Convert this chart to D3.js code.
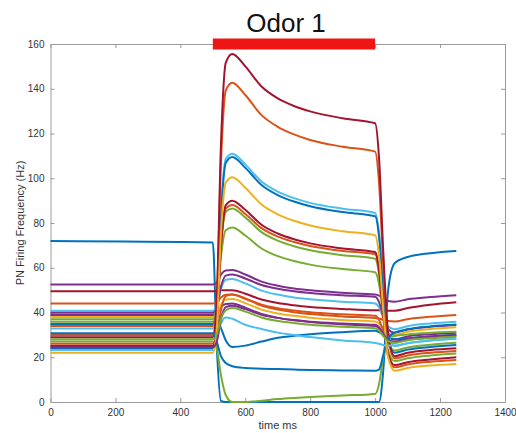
<!DOCTYPE html>
<html>
<head>
<meta charset="utf-8">
<script src="https://cdn.jsdelivr.net/npm/d3@7"></script>
<style>
  body { margin: 0; background: #fff; }
  text { font-family: "Liberation Sans", Arial, sans-serif; }
</style>
</head>
<body>
<script>
// time points (ms) shared by every PN trace
const times = [0, 500, 512, 525, 540, 560, 600, 650, 700, 750, 800, 900, 1000, 1012, 1025, 1040, 1060, 1100, 1170, 1250];

// PN firing rates (Hz), one array per neuron
const pn01 = [72, 71.3, 25, 0.5, 0, 0, 0, 0, 0, 0, 0, 0, 0, 0, 14, 50, 62, 64.8, 66.5, 67.5];
const pn02 = [52.5, 52.5, 53.3, 56.9, 58.8, 59, 57, 53.8, 52, 50.75, 49.9, 48.8, 48, 47.5, 46.2, 45.1, 44.8, 45.9, 46.9, 47.7];
const pn03 = [49.5, 49.5, 49.6, 49.9, 50, 50, 48.4, 45.8, 44.2, 43.25, 42.5, 41.6, 41, 41, 40.9, 40.8, 40.8, 42, 43.5, 44.6];
const pn04 = [44, 44, 44.5, 46.7, 47.9, 48, 46.1, 43.1, 41.3, 40.1, 39.3, 38.2, 37.5, 37.3, 36.7, 36.2, 36, 37, 38.1, 38.9];
const pn05 = [40.8, 40.8, 42.6, 50.5, 54.6, 55, 53, 49.8, 48, 46.75, 45.9, 44.8, 44, 42.3, 37.7, 33.7, 32.5, 33.9, 35.1, 35.9];
const pn06 = [39.9, 39.9, 42.1, 51.5, 56.5, 57, 55.2, 52.3, 50.6, 49.5, 48.7, 47.7, 47, 44.6, 38.2, 32.6, 31, 32.4, 33.6, 34.4];
const pn07 = [38.9, 38.9, 39.6, 42.4, 43.8, 44, 42.2, 39.3, 37.6, 36.5, 35.7, 34.7, 34, 33.1, 30.7, 28.6, 28, 29.3, 30.3, 31];
const pn08 = [38, 38, 39, 43.4, 45.8, 46, 44.2, 41.3, 39.6, 38.5, 37.7, 36.7, 36, 35.1, 32.7, 30.6, 30, 31.4, 32.6, 33.4];
const pn09 = [37, 37, 42.3, 64.9, 76.8, 78, 74.4, 68.6, 65.2, 63, 61.4, 59.4, 58, 52.8, 38.8, 26.5, 23, 24.4, 25.6, 26.5];
const pn10 = [35.9, 35.9, 42.6, 70.3, 85, 86.5, 82.5, 75.9, 72.1, 69.6, 67.8, 65.6, 64, 57.1, 38.9, 22.9, 18.3, 19.6, 20.8, 21.7];
const pn11 = [34.9, 34.9, 37, 33, 27.5, 24.6, 25.2, 27, 28.7, 29.6, 30.3, 31.2, 31.8, 31.2, 30, 28.5, 28, 28.5, 29.3, 29.9];
const pn12 = [34, 34, 41, 70.7, 86.4, 88, 84, 77.7, 73.9, 71.5, 69.7, 67.5, 66, 58.4, 38.2, 20.6, 15.5, 16.8, 18, 18.8];
const pn13 = [32.9, 32.9, 43.1, 86, 108.7, 111, 106.2, 98.5, 94, 91.1, 89, 86.4, 84.5, 75.6, 51.8, 31, 25, 26.3, 27.5, 28.4];
const pn14 = [24, 24, 35.1, 82.1, 106.9, 109.5, 104.7, 97, 92.5, 89.6, 87.5, 84.9, 83, 73.9, 49.5, 28.1, 22, 23.4, 24.6, 25.5];
const pn15 = [29.9, 29.9, 44.6, 106.6, 139.3, 142.7, 137.2, 128.2, 123, 119.6, 117.1, 114.1, 111.9, 98, 61.1, 28.7, 19.5, 20.8, 22, 22.8];
const pn16 = [28.9, 28.9, 45.4, 115, 151.7, 155.5, 150, 141, 135.7, 132.3, 129.9, 126.8, 124.6, 109, 67.3, 30.9, 20.5, 22, 23.2, 24];
const pn17 = [27, 27, 24, 12, 3, 0, 0, 0.6, 1.3, 1.8, 2.2, 2.9, 3.6, 8, 20, 28.5, 29.5, 30.2, 30.9, 31.4];
const pn18 = [26, 26, 28.9, 41, 47.3, 48, 46.3, 43.5, 41.9, 40.9, 40.1, 39.2, 38.5, 36.7, 31.9, 27.7, 26.5, 27.8, 28.8, 29.5];
const pn19 = [25, 25, 33.5, 69.2, 88, 90, 85.9, 79.2, 75.3, 72.75, 70.9, 68.6, 67, 59.4, 39.2, 21.6, 16.5, 17.8, 19, 20];
const pn20 = [30.7, 30.7, 27, 20.5, 17.4, 16, 15.2, 14.9, 14.7, 14.5, 14.3, 14.1, 14, 14.5, 21, 28.5, 31, 32.5, 33.8, 34.6];
const pn21 = [23.2, 23.2, 28, 35, 37.8, 37.2, 34.5, 32.6, 31, 30, 29, 27.5, 26.4, 26, 25.5, 25.2, 25.2, 26.3, 27.5, 28.3];
const pn22 = [22, 22, 32.2, 75.4, 98.1, 100.5, 95.8, 88.3, 83.9, 81, 78.9, 76.3, 74.5, 65.4, 41.2, 20, 14, 15.2, 16.3, 17];
const pn23 = [24.5, 24.5, 26.9, 37.1, 42.4, 43, 41.5, 39, 37.6, 36.6, 35.9, 35.1, 34.5, 33.4, 30.4, 27.8, 27, 28.2, 29.3, 30];
const pn24 = [28, 28, 30, 37, 41, 42, 40.4, 37.8, 36.2, 35.3, 34.5, 33.6, 33, 32, 29.5, 27.2, 26.5, 27.6, 28.5, 29.2];

const traces = [pn01, pn02, pn03, pn04, pn05, pn06, pn07, pn08, pn09, pn10, pn11, pn12,
                pn13, pn14, pn15, pn16, pn17, pn18, pn19, pn20, pn21, pn22, pn23, pn24];
const traceColors = ["#0072BD", "#7E2F8E", "#A2142F", "#D95319", "#4DBEEE", "#7E2F8E",
                     "#7E2F8E", "#EDB120", "#77AC30", "#77AC30", "#0072BD", "#D95319",
                     "#4DBEEE", "#0072BD", "#D95319", "#A2142F", "#77AC30", "#D95319",
                     "#A2142F", "#0072BD", "#4DBEEE", "#EDB120", "#7E2F8E", "#77AC30"];

const xTicks = [0, 200, 400, 600, 800, 1000, 1200, 1400];
const yTicks = [0, 20, 40, 60, 80, 100, 120, 140, 160];
const odorWindow = [500, 1000];

function drawChart() {
  // plot box
  let W = 516, H = 433;
  let pLeft = 50.5, pRight = 505, pTop = 44, pBottom = 402;

  let svg = d3.select("body").append("svg")
    .attr("width", W).attr("height", H);

  let x = d3.scaleLinear().domain([0, 1400]).range([pLeft, pRight]);
  let y = d3.scaleLinear().domain([0, 160]).range([pBottom, pTop]);

  // axes (MATLAB style box, ticks inward)
  function styleAxis(g) {
    g.selectAll(".domain").attr("stroke", "#9a9a9a").attr("stroke-width", 1);
    g.selectAll(".tick line").attr("stroke", "#9a9a9a");
    g.selectAll(".tick text").attr("fill", "#333").style("font-size", "10px");
  }

  svg.append("g")
    .attr("transform", "translate(0," + pBottom + ")")
    .call(d3.axisBottom(x).tickValues(xTicks).tickSizeInner(-4).tickSizeOuter(0)
      .tickPadding(7).tickFormat(d3.format("d")))
    .call(styleAxis);
  svg.append("g")
    .attr("transform", "translate(0," + pTop + ")")
    .call(d3.axisTop(x).tickValues(xTicks).tickSizeInner(-4).tickSizeOuter(0).tickFormat(""))
    .call(styleAxis);
  svg.append("g")
    .attr("transform", "translate(" + pLeft + ",0)")
    .call(d3.axisLeft(y).tickValues(yTicks).tickSizeInner(-4).tickSizeOuter(0).tickPadding(6))
    .call(styleAxis);
  svg.append("g")
    .attr("transform", "translate(" + pRight + ",0)")
    .call(d3.axisRight(y).tickValues(yTicks).tickSizeInner(-4).tickSizeOuter(0).tickFormat(""))
    .call(styleAxis);

  // traces
  let line = d3.line()
    .x((d, i) => x(times[i]))
    .y(d => y(d))
    .curve(d3.curveMonotoneX);

  svg.append("g").selectAll("path")
    .data(traces)
    .enter().append("path")
    .attr("d", line)
    .attr("fill", "none")
    .attr("stroke", (d, i) => traceColors[i])
    .attr("stroke-width", 2)
    .attr("stroke-linejoin", "round");

  // odor bar
  svg.append("line")
    .attr("x1", x(odorWindow[0])).attr("x2", x(odorWindow[1]))
    .attr("y1", y(160)).attr("y2", y(160))
    .attr("stroke", "#EE1515").attr("stroke-width", 11);

  // labels
  svg.append("text")
    .attr("x", 286).attr("y", 32)
    .attr("text-anchor", "middle")
    .style("font-size", "26px").attr("fill", "#111")
    .text("Odor 1");

  svg.append("text")
    .attr("x", (pLeft + pRight) / 2).attr("y", 429)
    .attr("text-anchor", "middle")
    .style("font-size", "11px").attr("fill", "#333")
    .text("time ms");

  svg.append("text")
    .attr("transform", "translate(24," + (pTop + pBottom) / 2 + ") rotate(-90)")
    .attr("text-anchor", "middle")
    .style("font-size", "11px").attr("fill", "#333")
    .text("PN Firing Frequency (Hz)");
}

drawChart();
</script>
</body>
</html>
